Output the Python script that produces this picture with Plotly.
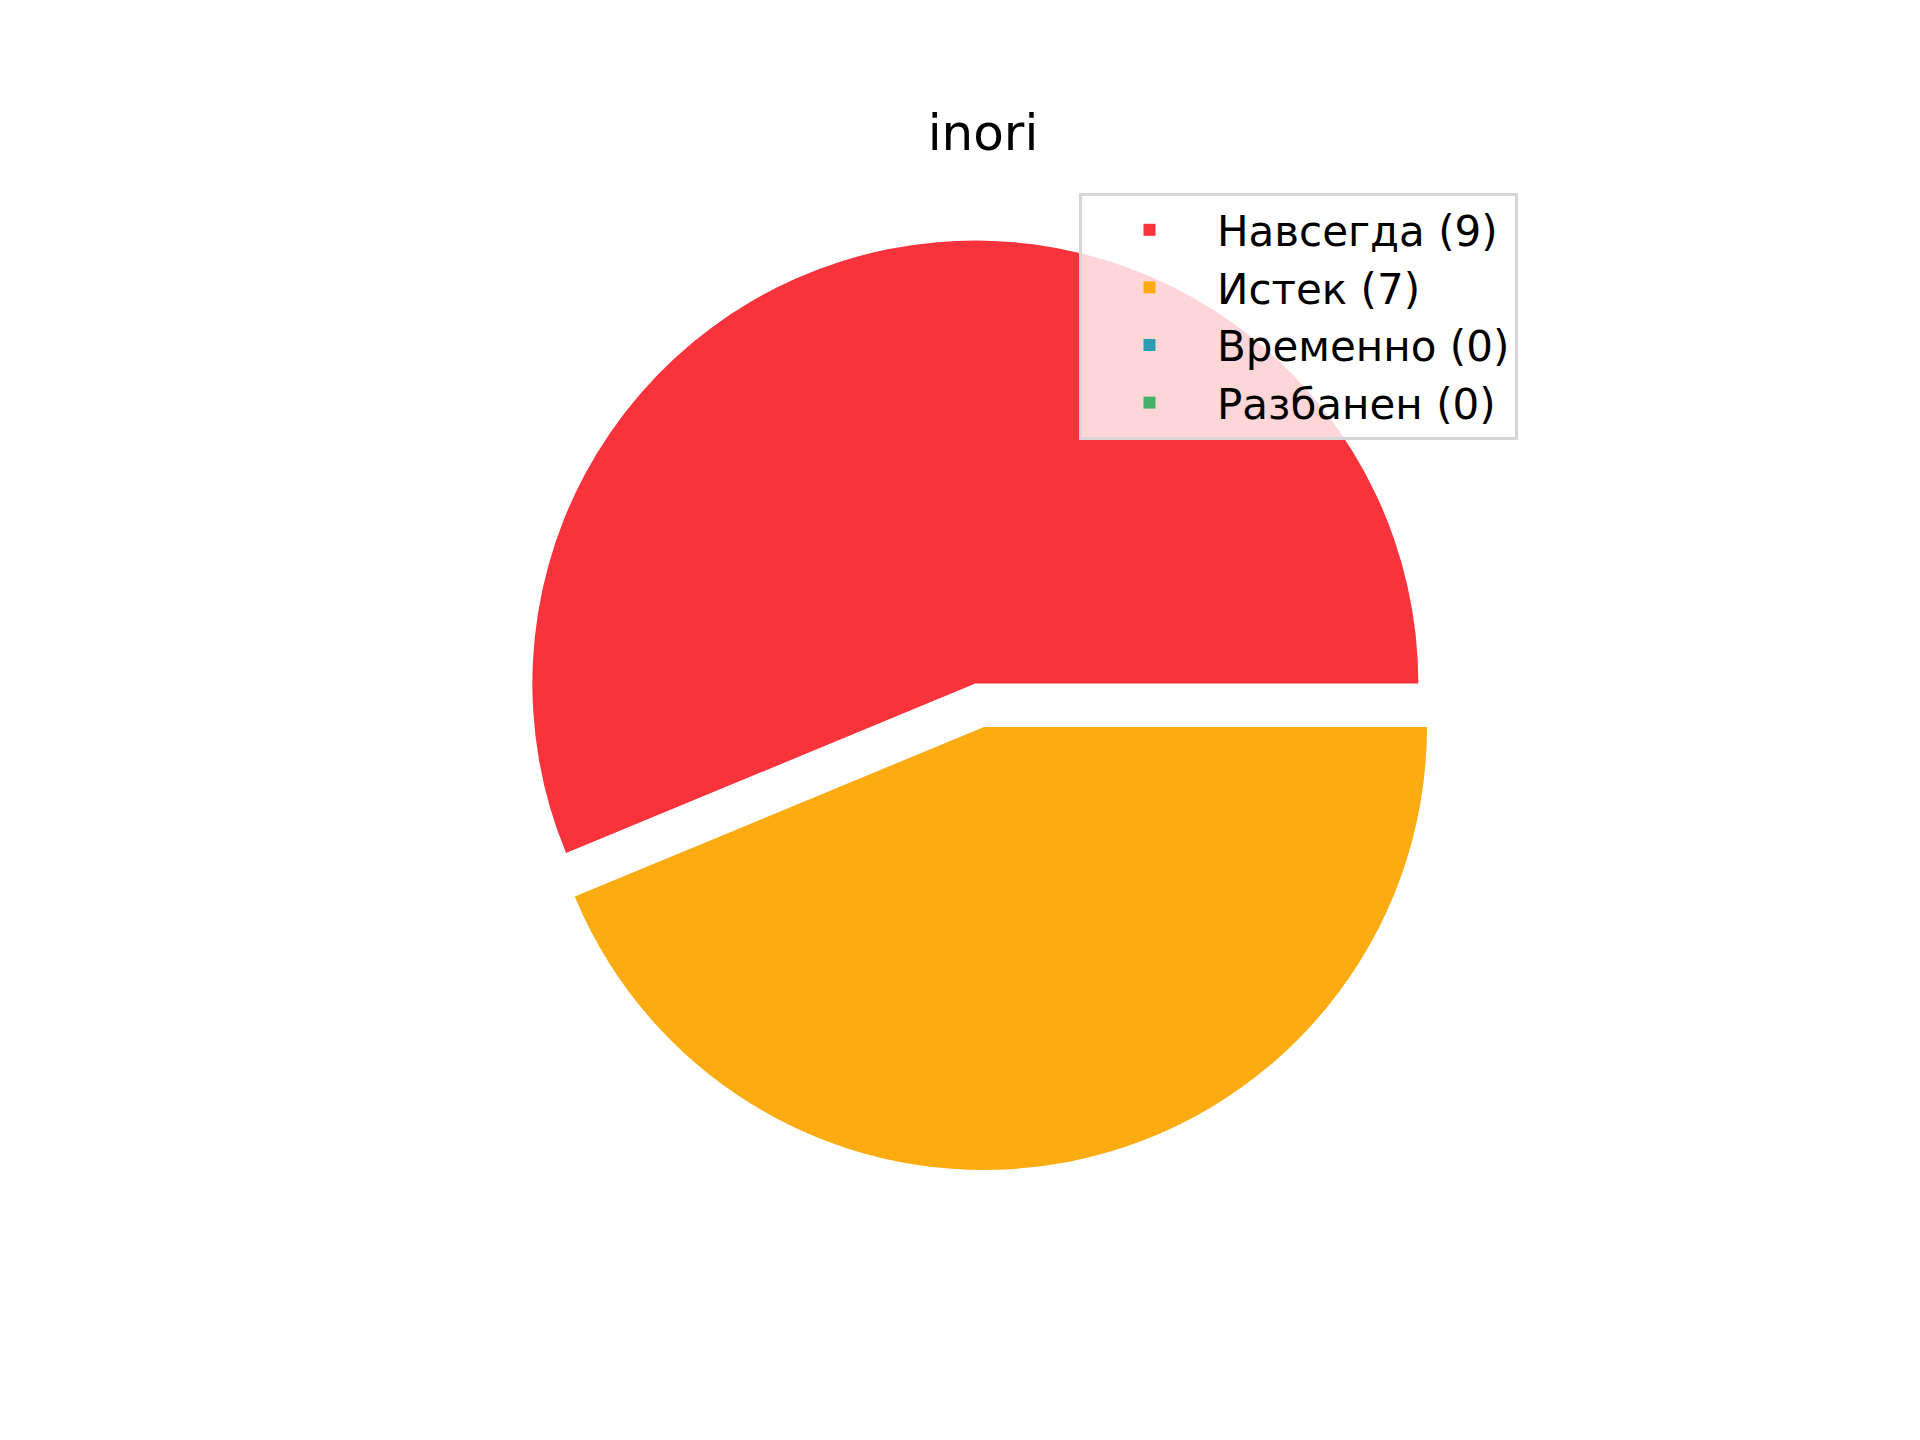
import plotly.graph_objects as go

labels = ["Навсегда (9)", "Истек (7)", "Временно (0)", "Разбанен (0)"]
values = [9, 7, 0, 0]
colors = ["#F8333C", "#FCAB10", "#2B9EB3", "#44AF69"]
pulls = [0.1, 0, 0, 0]
title_text = "inori"

W, H = 1920, 1440
OFF = 8                     # page body margin in the browser
cx, cy = 984 - OFF, 727 - OFF   # pie centre (px from top-left)
r = 443                     # pie radius in px
half = r * (1 + max(pulls))  # plotly shrinks radius to fit pulls
dom_x = [(cx - half) / W, (cx + half) / W]
dom_y = [(H - cy - half) / H, (H - cy + half) / H]

# first slice starts at 3 o'clock and runs counter-clockwise (matplotlib style)
first_angle = 360 * values[0] / sum(values)
rotation = 90 - first_angle

fig = go.Figure(go.Pie(
    labels=labels,
    values=values,
    marker=dict(colors=colors, line=dict(width=0)),
    pull=pulls,
    sort=False,
    direction="counterclockwise",
    rotation=rotation,
    textinfo="none",
    domain=dict(x=dom_x, y=dom_y),
    showlegend=True,
))

fig.update_layout(
    width=W, height=H,
    margin=dict(l=0, r=0, t=0, b=0),
    paper_bgcolor="white",
    plot_bgcolor="white",
    font=dict(family="DejaVu Sans", color="black"),
    title=dict(text=title_text, x=(983 - OFF) / W, y=1 - (132 - OFF) / H,
               xanchor="center", yanchor="middle",
               font=dict(size=50, family="DejaVu Sans", color="black")),
    legend=dict(
        x=(1518 - OFF) / W, y=1 - (193 - OFF) / H, xanchor="right", yanchor="top",
        bgcolor="rgba(255,255,255,0.8)",
        bordercolor="#d6d6d6", borderwidth=3,
        font=dict(size=42, family="DejaVu Sans", color="black"),
        itemwidth=125,
    ),
)

fig.write_html("out.html")
